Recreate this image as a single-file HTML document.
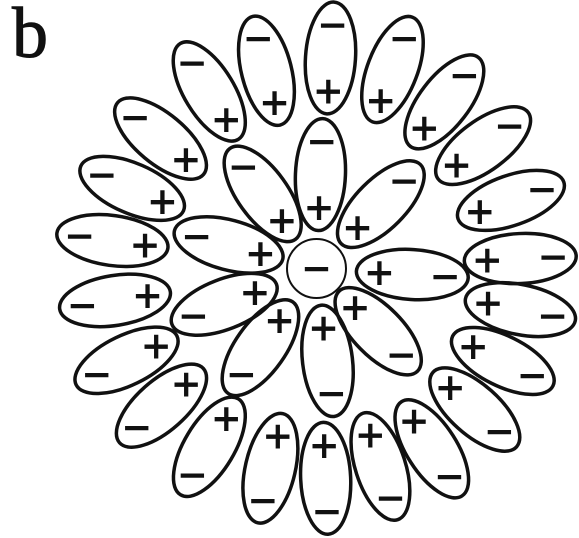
<!DOCTYPE html>
<html><head><meta charset="utf-8"><style>
html,body{margin:0;padding:0;background:#fff;}
svg{display:block;}
.sign{font-family:"Liberation Sans",sans-serif;font-size:46px;fill:#111;stroke:#111;stroke-width:1;text-anchor:middle;dominant-baseline:central;}
</style></head><body>
<svg id="fig" width="579" height="538" viewBox="0 0 579 538" xmlns="http://www.w3.org/2000/svg">
<text x="12" y="57" font-family="Liberation Serif, serif" font-size="72" fill="#111" stroke="#111" stroke-width="1">b</text>
<g id="dipoles"></g>
<circle cx="316.5" cy="268.5" r="29.5" fill="none" stroke="#111" stroke-width="2"/>
<text class="sign" x="316.5" y="268.5">−</text>
</svg>
<script>
const outerAngles = [-86.2,-104.2,-121.2,-140.2,-156.5,-172.2,171,154.2,138.5,121,103,87.5,72.1,57.4,41.7,26.4,11.4,-2.8,-19.3,-36.4,-52.5,-69.1];
const outerRadii = [211,204,207,203,201,206,204,211,207,208,205,210,208,214,212,208,208,204,206,207,210,213];
const innerAngles = [-87.6,-125.8,-165,158.8,125.3,83.2,45.5,3.6,-45];
const innerRadii = [94,92,91,99,97,93,88,96,91];
const cx = 316.5, cy = 268.5;
const A = 56, B = 25, OFF = 33;
const g = document.getElementById('dipoles');
const NS = 'http://www.w3.org/2000/svg';
function drawDipole(ang, r, ring, i){
  const t = ang*Math.PI/180;
  const ex = cx + r*Math.cos(t), ey = cy + r*Math.sin(t);
  const grp = document.createElementNS(NS,'g');
  
  
  const el = document.createElementNS(NS,'ellipse');
  
  
  el.setAttribute('cx', ex); el.setAttribute('cy', ey);
  el.setAttribute('rx', A); el.setAttribute('ry', B);
  el.setAttribute('transform', 'rotate('+ang+' '+ex+' '+ey+')');
  el.setAttribute('fill', 'none'); el.setAttribute('stroke', '#111'); el.setAttribute('stroke-width', '3.5');
  grp.appendChild(el);
  const plus = document.createElementNS(NS,'text');
  
  
  plus.setAttribute('class','sign');
  plus.setAttribute('x', ex - OFF*Math.cos(t)); plus.setAttribute('y', ey - OFF*Math.sin(t));
  plus.textContent = '+';
  grp.appendChild(plus);
  const minus = document.createElementNS(NS,'text');
  
  
  minus.setAttribute('class','sign');
  minus.setAttribute('x', ex + OFF*Math.cos(t)); minus.setAttribute('y', ey + OFF*Math.sin(t));
  minus.textContent = '−';
  grp.appendChild(minus);
  g.appendChild(grp);
}
outerAngles.forEach((a,i)=>drawDipole(a, outerRadii[i], 'outer', i));
innerAngles.forEach((a,i)=>drawDipole(a, innerRadii[i], 'inner', i));
</script>
</body></html>
